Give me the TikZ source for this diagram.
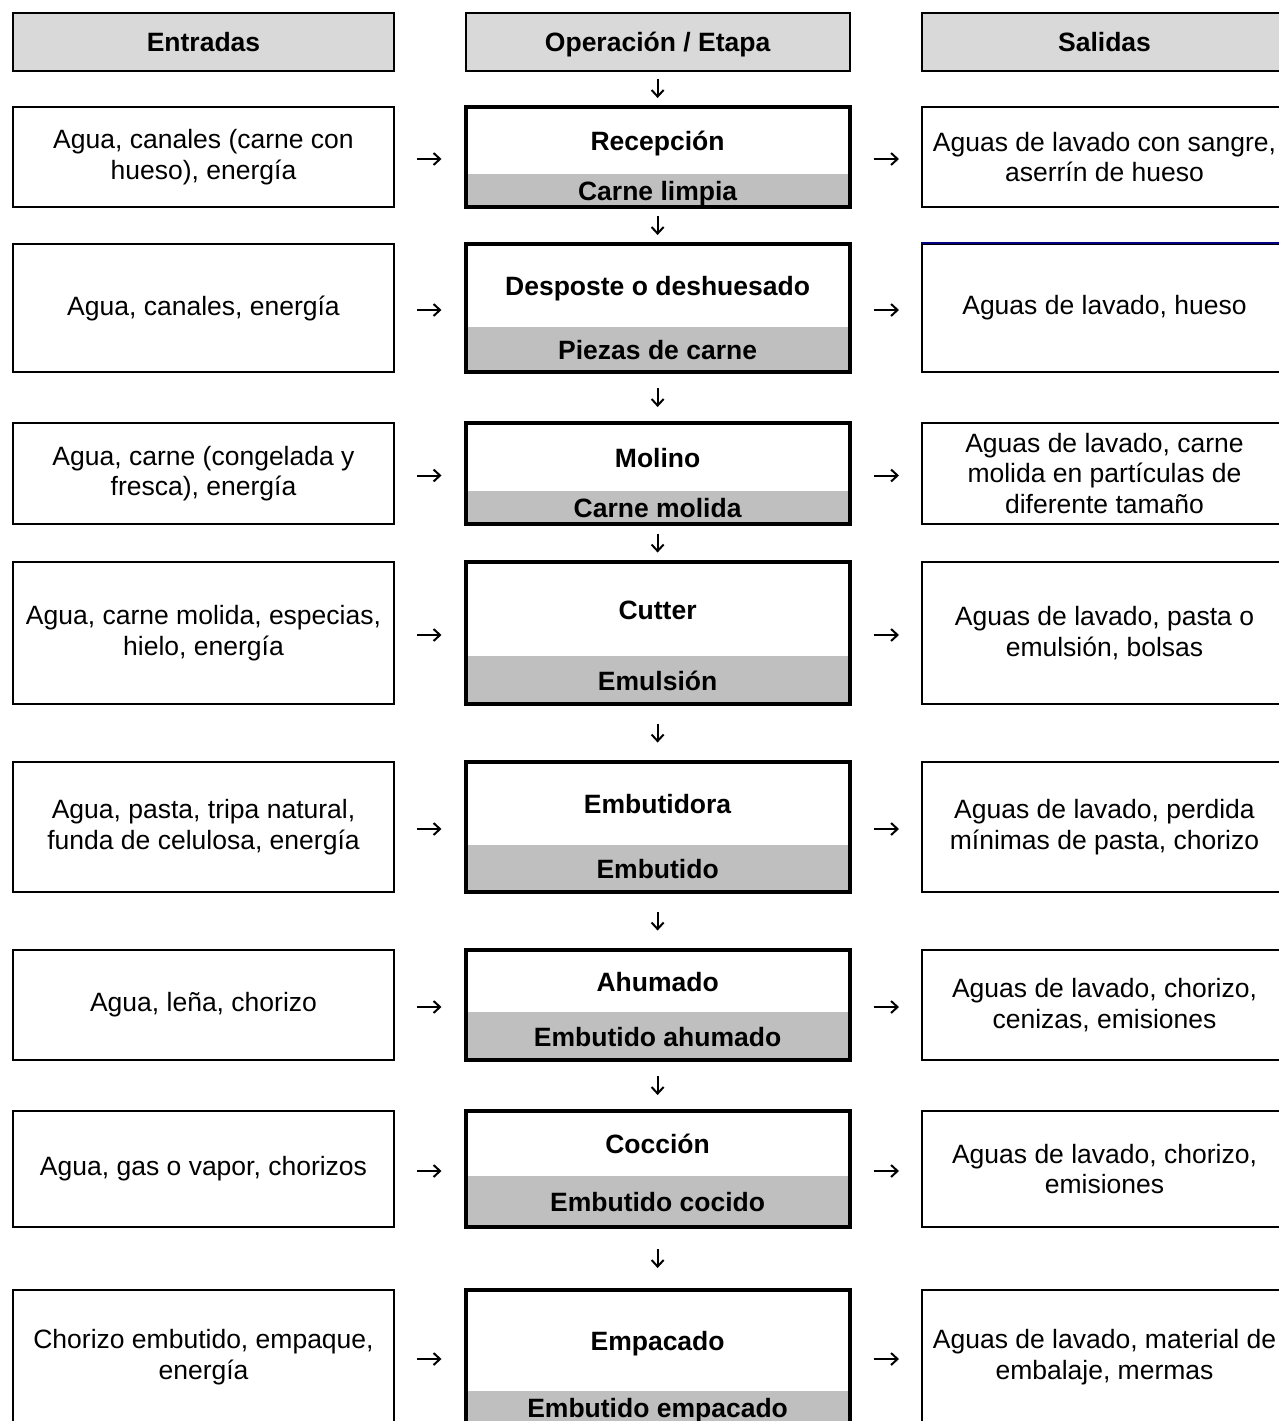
\documentclass[tikz,border=0pt]{standalone}
\usepackage{fontspec}
\setmainfont{Liberation Sans}
\usetikzlibrary{arrows.meta,calc}

\definecolor{headgray}{gray}{0.85}
\definecolor{bandgray}{gray}{0.75}
\definecolor{navyline}{RGB}{0,0,128}

\tikzset{
  txt/.style={font=\fontsize{26.5}{30.5}\selectfont, align=center, inner sep=0pt},
  boldtxt/.style={txt, font=\fontsize{26.5}{30.5}\selectfont\bfseries,
    text height=22pt, text depth=2pt},
  leftcol/.style={minimum width=381pt},
  midcol/.style={minimum width=384.2pt},
  rightcol/.style={minimum width=365pt},
  headbox/.style={boldtxt, draw, line width=2pt, fill=headgray, minimum height=58pt},
  sidebox/.style={txt, draw, line width=2pt, fill=white},
  opbox/.style={midcol, draw, line width=4pt, inner sep=0pt},
  band/.style={boldtxt, midcol, fill=bandgray},
  optitle/.style={boldtxt},
  flow/.style={-{Straight Barb[length=6.5pt,width=12pt]}, line width=2pt},
}

% one process row: id, top, band top, bottom, stage, product, inputs, outputs
\newcommand\stagerow[8]{%
  \pgfmathsetmacro\rowc{(#2+#4)/2}%
  \pgfmathsetmacro\rowh{#4-#2}%
  \pgfmathsetmacro\titc{(#2+#3)/2}%
  \pgfmathsetmacro\bandc{(#3+#4)/2}%
  \pgfmathsetmacro\bandh{#4-#3}%
  \node[band, minimum height=\bandh pt] (band#1) at (657.6,\bandc) {#6};
  \node[opbox, minimum height=\rowh pt] (op#1) at (657.6,\rowc) {};
  \node[optitle] (title#1) at (657.6,\titc) {#5};
  \node[sidebox, leftcol, minimum height=\rowh pt] (in#1) at (203.5,\rowc) {#7};
  \node[sidebox, rightcol, minimum height=\rowh pt] (out#1) at (1104.5,\rowc) {#8};
  \draw[flow, shorten <=22pt, shorten >=22pt] ([yshift=-2pt]in#1.east) -- ([yshift=-2pt]op#1.west);
  \draw[flow, shorten <=22pt, shorten >=22pt] ([yshift=-2pt]op#1.east) -- ([yshift=-2pt]out#1.west);
}

% short downward arrow centred in the gap between two boxes
\newcommand\vlink[2]{%
  \path let \p1=(#1.south), \p2=(#2.north), \n1={(\y1-\y2-19pt)/2} in
    \pgfextra{\xdef\gapshort{\n1}};
  \draw[flow, shorten <=\gapshort, shorten >=\gapshort] (#1.south) -- (#2.north);
}

\begin{document}
\begin{tikzpicture}[x=1pt,y=-1pt]
\useasboundingbox (0,0) rectangle (1279,1421);
\clip (0,0) rectangle (1279,1421);
\fill[white] (0,0) rectangle (1279,1421);

% column headings
\node[headbox, leftcol] (hin) at (203.5,42) {Entradas};
\node[headbox, midcol] (hop) at (657.6,42) {Operación / Etapa};
\node[headbox, rightcol] (hout) at (1104.5,42) {Salidas};

\stagerow{1}{107}{174}{207}{Recepción}{Carne limpia}
  {Agua, canales (carne con\\hueso), energía}
  {Aguas de lavado con sangre,\\aserrín de hueso}
\stagerow{2}{244}{327}{372}{Desposte o deshuesado}{Piezas de carne}
  {Agua, canales, energía}
  {Aguas de lavado, hueso}
\stagerow{3}{423}{491}{524}{Molino}{Carne molida}
  {Agua, carne (congelada y\\fresca), energía}
  {Aguas de lavado, carne\\molida en partículas de\\diferente tamaño}
\stagerow{4}{562}{656}{704}{Cutter}{Emulsión}
  {Agua, carne molida, especias,\\hielo, energía}
  {Aguas de lavado, pasta o\\emulsión, bolsas}
\stagerow{5}{762}{845}{892}{Embutidora}{Embutido}
  {Agua, pasta, tripa natural,\\funda de celulosa, energía}
  {Aguas de lavado, perdida\\mínimas de pasta, chorizo}
\stagerow{6}{950}{1012}{1060}{Ahumado}{Embutido ahumado}
  {Agua, leña, chorizo}
  {Aguas de lavado, chorizo,\\cenizas, emisiones}
\stagerow{7}{1111}{1176}{1227}{Cocción}{Embutido cocido}
  {Agua, gas o vapor, chorizos}
  {Aguas de lavado, chorizo,\\emisiones}
\stagerow{8}{1290}{1391}{1424}{Empacado}{Embutido empacado}
  {Chorizo embutido, empaque,\\energía}
  {Aguas de lavado, material de\\embalaje, mermas}

% coloured top rule of the second output box
\draw[navyline, line width=2.5pt] (out2.north west) -- (out2.north east);

% flow down the operation column
\vlink{hop}{op1}
\vlink{op1}{op2}
\vlink{op2}{op3}
\vlink{op3}{op4}
\vlink{op4}{op5}
\vlink{op5}{op6}
\vlink{op6}{op7}
\vlink{op7}{op8}
\end{tikzpicture}
\end{document}
